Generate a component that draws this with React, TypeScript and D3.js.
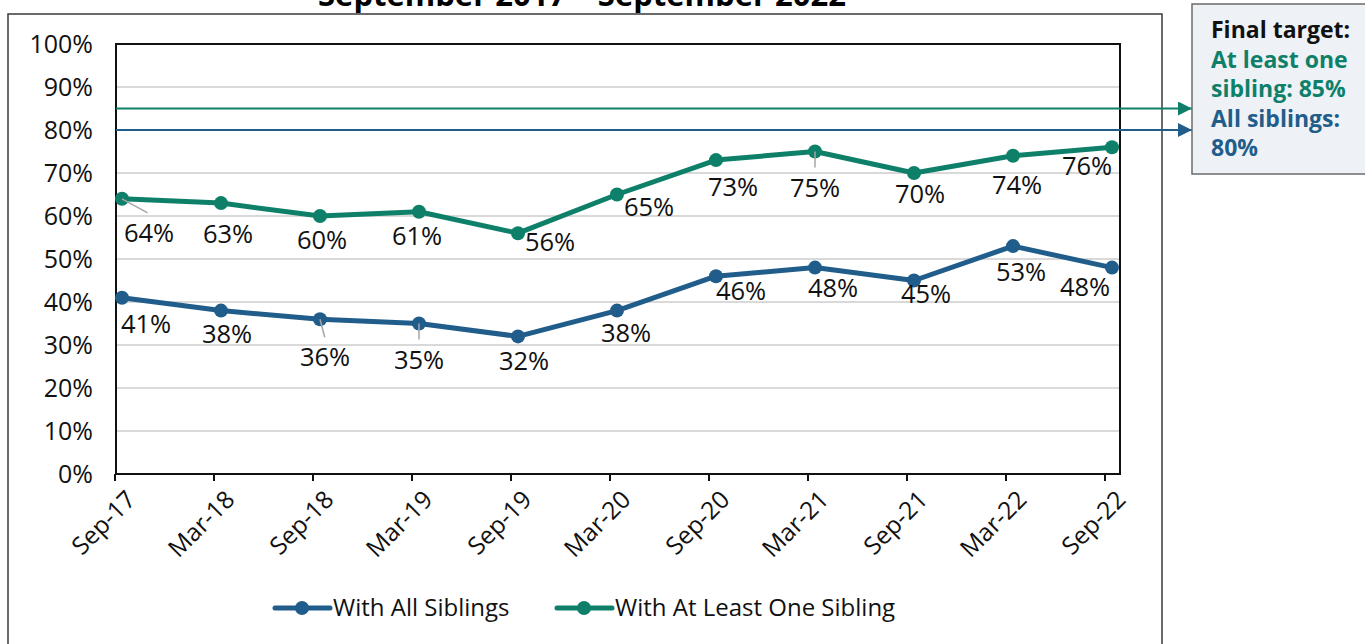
import React, { useEffect, useRef } from 'react';
import * as d3 from 'd3';

// chart data
const periods = ['Sep-17', 'Mar-18', 'Sep-18', 'Mar-19', 'Sep-19', 'Mar-20', 'Sep-20', 'Mar-21', 'Sep-21', 'Mar-22', 'Sep-22'];
const allSiblings = [41, 38, 36, 35, 32, 38, 46, 48, 45, 53, 48];
const atLeastOne = [64, 63, 60, 61, 56, 65, 73, 75, 70, 74, 76];
const yTicks = [0, 10, 20, 30, 40, 50, 60, 70, 80, 90, 100];
const targetAllSiblings = 80;
const targetAtLeastOne = 85;

const BLUE = '#215d8b';
const GREEN = '#0e806a';
const FONT = '"Open Sans", "DejaVu Sans", sans-serif';

// label offsets relative to each point [dx, dy], and whether a leader line is drawn
const greenLabelOffsets: [number, number, boolean][] = [
  [27, 34, true], [7, 31, false], [2, 24, false], [-2, 24, false], [32, 9, false], [32, 12, false],
  [17, 27, false], [0, 36, true], [6, 21, false], [4, 29, false], [-25, 19, false],
];
const blueLabelOffsets: [number, number, boolean][] = [
  [24, 26, false], [6, 23, false], [5, 38, true], [0, 36, true], [6, 25, false], [9, 22, false],
  [25, 15, false], [18, 20, false], [12, 13, false], [8, 26, false], [-27, 19, false],
];

const App: React.FC = () => {
  const svgRef = useRef<SVGSVGElement>(null);

  useEffect(() => {
    const width = 1365;
    const height = 644;
    const plot = { left: 116, right: 1120, top: 44, bottom: 474 };

    const svg = d3.select(svgRef.current).attr('width', width).attr('height', height);
    svg.selectAll('*').remove();

    const x = d3.scaleLinear().domain([0, periods.length - 1]).range([115, 1105]);
    const px = (i: number) => x(i) + 7;
    const y = d3.scaleLinear().domain([0, 100]).range([plot.bottom, plot.top]);

    // outer chart frame
    svg.append('rect')
      .attr('x', 8).attr('y', 14).attr('width', 1154).attr('height', 660)
      .attr('fill', 'white').attr('stroke', '#3a3a3a').attr('stroke-width', 1.5);

    // title (mostly cut off at the top, as in the source)
    svg.append('text')
      .attr('x', 582).attr('y', 6)
      .attr('text-anchor', 'middle')
      .attr('font-family', FONT).attr('font-weight', 'bold').attr('font-size', 31)
      .text('September 2017 – September 2022');

    // grid
    svg.append('g')
      .selectAll('line')
      .data(yTicks.filter(t => t > 0 && t < 100))
      .join('line')
      .attr('x1', plot.left).attr('x2', plot.right)
      .attr('y1', d => y(d)).attr('y2', d => y(d))
      .attr('stroke', '#d9d9d9').attr('stroke-width', 2);

    // plot border
    svg.append('rect')
      .attr('x', plot.left).attr('y', plot.top)
      .attr('width', plot.right - plot.left).attr('height', plot.bottom - plot.top)
      .attr('fill', 'none').attr('stroke', '#111').attr('stroke-width', 2);

    // y axis labels
    svg.append('g')
      .selectAll('text')
      .data(yTicks)
      .join('text')
      .attr('x', 93).attr('y', d => y(d) + 9)
      .attr('text-anchor', 'end')
      .attr('font-family', FONT).attr('font-size', 25).attr('fill', '#111')
      .text(d => `${d}%`);

    // x ticks and rotated labels
    const xg = svg.append('g');
    xg.selectAll('line')
      .data(periods)
      .join('line')
      .attr('x1', (_, i) => x(i)).attr('x2', (_, i) => x(i))
      .attr('y1', plot.bottom).attr('y2', plot.bottom + 7)
      .attr('stroke', '#111').attr('stroke-width', 2);
    xg.selectAll('text')
      .data(periods)
      .join('text')
      .attr('transform', (_, i) => `translate(${x(i) + 10},${plot.bottom + 15}) rotate(-45)`)
      .attr('text-anchor', 'end')
      .attr('dy', '0.7em')
      .attr('font-family', FONT).attr('font-size', 24.5).attr('fill', '#111')
      .text(d => d);

    // target arrows
    const defs = svg.append('defs');
    [['arrowGreen', GREEN], ['arrowBlue', BLUE]].forEach(([id, c]) => {
      defs.append('marker')
        .attr('id', id).attr('viewBox', '0 0 10 10')
        .attr('refX', 10).attr('refY', 5)
        .attr('markerWidth', 7).attr('markerHeight', 7)
        .attr('markerUnits', 'strokeWidth')
        .attr('orient', 'auto')
        .append('path').attr('d', 'M0,0L10,5L0,10Z').attr('fill', c);
    });
    const targets: [number, string, string][] = [
      [targetAtLeastOne, GREEN, 'arrowGreen'],
      [targetAllSiblings, BLUE, 'arrowBlue'],
    ];
    targets.forEach(([v, c, m]) => {
      svg.append('line')
        .attr('x1', plot.left).attr('x2', 1192)
        .attr('y1', y(v)).attr('y2', y(v))
        .attr('stroke', c).attr('stroke-width', 2)
        .attr('marker-end', `url(#${m})`);
    });

    // series
    const line = d3.line<number>().x((_, i) => px(i)).y(d => y(d));
    const series: [number[], string, [number, number, boolean][]][] = [
      [atLeastOne, GREEN, greenLabelOffsets],
      [allSiblings, BLUE, blueLabelOffsets],
    ];
    series.forEach(([vals, c, offs]) => {
      const g = svg.append('g');
      g.append('path').attr('d', line(vals)).attr('fill', 'none')
        .attr('stroke', c).attr('stroke-width', 5).attr('stroke-linejoin', 'round');
      g.selectAll('circle').data(vals).join('circle')
        .attr('cx', (_, i) => px(i)).attr('cy', d => y(d)).attr('r', 7).attr('fill', c);
      const pts = vals.map((v, i) => ({ v, i, dx: offs[i][0], dy: offs[i][1], leader: offs[i][2] }));
      g.selectAll('line.leader').data(pts.filter(p => p.leader)).join('line')
        .attr('class', 'leader')
        .attr('x1', p => px(p.i)).attr('y1', p => y(p.v))
        .attr('x2', p => px(p.i) + p.dx * 0.95).attr('y2', p => y(p.v) + p.dy - 20)
        .attr('stroke', '#a6a6a6').attr('stroke-width', 1.5);
      g.selectAll('text').data(pts).join('text')
        .attr('x', p => px(p.i) + p.dx)
        .attr('y', p => y(p.v) + p.dy + 9)
        .attr('text-anchor', 'middle')
        .attr('font-family', FONT).attr('font-size', 25.5).attr('fill', '#111')
        .text(p => `${p.v}%`);
    });

    // legend
    const legend = [
      { label: 'With All Siblings', color: BLUE, x: 275 },
      { label: 'With At Least One Sibling', color: GREEN, x: 557 },
    ];
    legend.forEach(l => {
      const g = svg.append('g');
      g.append('line').attr('x1', l.x).attr('x2', l.x + 55).attr('y1', 608).attr('y2', 608)
        .attr('stroke', l.color).attr('stroke-width', 5).attr('stroke-linecap', 'round');
      g.append('circle').attr('cx', l.x + 27).attr('cy', 608).attr('r', 7).attr('fill', l.color);
      g.append('text').attr('x', l.x + 58).attr('y', 616)
        .attr('font-family', FONT).attr('font-size', 24).attr('fill', '#111')
        .text(l.label);
    });

    // target box
    svg.append('rect')
      .attr('x', 1192).attr('y', 4).attr('width', 190).attr('height', 170)
      .attr('fill', '#eef1f6').attr('stroke', '#6b6b6b').attr('stroke-width', 1.5);
    const boxLines: [string, string][] = [
      ['Final target:', '#111'],
      ['At least one', GREEN],
      [`sibling: ${targetAtLeastOne}%`, GREEN],
      ['All siblings:', BLUE],
      [`${targetAllSiblings}%`, BLUE],
    ];
    svg.append('g').selectAll('text').data(boxLines).join('text')
      .attr('x', 1211).attr('y', (_, i) => 38 + i * 29.5)
      .attr('font-family', FONT).attr('font-weight', 'bold').attr('font-size', 23)
      .attr('fill', d => d[1])
      .text(d => d[0]);
  }, []);

  return <svg ref={svgRef} style={{ position: 'absolute', left: 0, top: 0 }}></svg>;
};

export default App;
